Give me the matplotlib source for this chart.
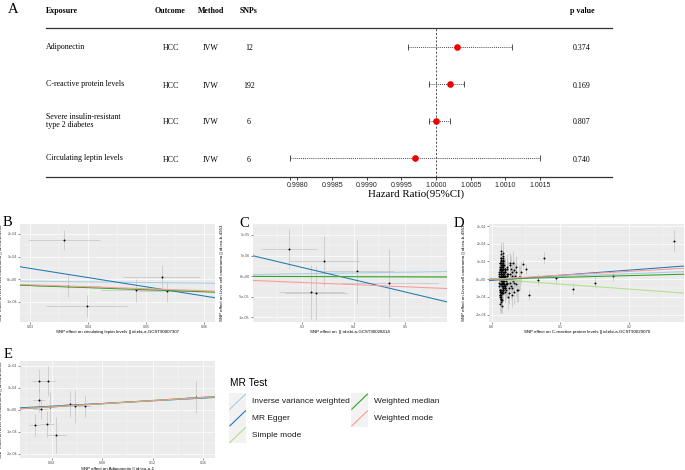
import numpy as np
import matplotlib
matplotlib.use("Agg")
import matplotlib.pyplot as plt
from matplotlib.patches import Rectangle

plt.rcParams['font.family'] = ['Liberation Sans', 'DejaVu Sans']
SERIF = 'Liberation Serif'

W, H = 685, 470

# ---------------- panel A: forest table ----------------
exposures = ["Adiponectin", "C-reactive protein levels",
             "Severe insulin-resistant\ntype 2 diabetes", "Circulating leptin levels"]
outcomes = ["HCC", "HCC", "HCC", "HCC"]
methods = ["IVW", "IVW", "IVW", "IVW"]
n_snps = [12, 192, 6, 6]
hr = [1.0003, 1.0002, 1.0000, 0.9997]
hr_low = [0.9996, 0.9999, 0.9999, 0.9979]
hr_high = [1.0011, 1.0004, 1.0002, 1.0015]
p_values = ["0.374", "0.169", "0.807", "0.740"]
hr_ticks = [0.9979, 0.9980, 0.9985, 0.9990, 0.9995, 1.0000, 1.0005, 1.0010, 1.0015]
hr_tick_labels = ["", "0.9980", "0.9985", "0.9990", "0.9995", "1.0000", "1.0005", "1.0010", "1.0015"]

# ---------------- scatter panels ----------------
method_names = ["Inverse variance weighted", "MR Egger", "Simple mode",
                "Weighted median", "Weighted mode"]
method_colors = ["#a6cee3", "#1f78b4", "#b2df8a", "#33a02c", "#fb9a99"]

# B: circulating leptin levels
leptin_x = [0.0359, 0.0366, 0.0398, 0.0483, 0.0527, 0.0537]
leptin_y = [1.73e-4, -0.30e-4, -1.18e-4, -0.49e-4, 0.12e-4, -0.53e-4]
leptin_xse = [0.0061, 0.0057, 0.0070, 0.0060, 0.0066, 0.0050]
leptin_yse = [0.45e-4, 0.50e-4, 0.50e-4, 0.50e-4, 0.50e-4, 0.47e-4]
# (intercept, slope) per method
leptin_lines = [(0, -2.8e-4), (1.70e-4, -4.06e-3), (0, -9.0e-4), (0, -9.2e-4), (0.02e-4, -8.7e-4)]

# C: ebi-a-GCST90028414
c_x = [0.274, 0.3417, 0.406, 0.3175, 0.3267, 0.4696]
c_y = [6.59e-6, 3.66e-6, 1.15e-6, -3.9e-6, -4.07e-6, -1.7e-6]
c_xse = [0.055, 0.068, 0.073, 0.063, 0.060, 0.094]
c_yse = [4.9e-6, 6.1e-6, 7.7e-6, 6.6e-6, 6.5e-6, 8.3e-6]
c_lines = [(0, 1.9e-6), (1.1e-5, -2.97e-5), (0, -2e-7), (0, -4e-7), (0, -5.2e-6)]

# D: C-reactive protein levels (cluster in 1e-3 / 1e-5 units, then outliers)
crp_x_milli = [11, 12, 13, 14, 15, 16, 17, 18, 12, 13, 14, 15, 16, 17, 11, 12, 13, 14, 15, 16,
               17, 18, 19, 20, 12, 13, 14, 15, 16, 11, 12, 13, 14, 15, 16, 17, 18, 19, 13, 14,
               15, 16, 17, 12, 13, 14, 15, 11, 12, 13, 14, 15, 16, 17, 18, 20, 21, 22, 12, 13,
               14, 15, 16, 17, 13, 14, 15, 16, 12, 13, 14, 15, 16, 17, 18, 19, 20, 21, 22, 23,
               12, 13, 14, 15, 16, 17, 11, 12, 13, 14, 15, 16, 13, 14, 15, 16, 17, 18, 19, 20,
               24, 25, 26, 27, 28, 29, 30, 31, 32, 33, 34, 35, 36, 38, 40, 42, 24, 26, 28, 30,
               12, 13, 14, 15, 16, 17, 18, 19, 20, 21, 14, 15, 16, 17, 18, 12, 13, 14, 15, 16,
               22, 23, 25, 27, 29, 31, 33, 35, 37, 41,
               11, 13, 15, 17, 19, 21, 23, 12, 14, 16, 18, 20, 22, 13, 15, 17, 19, 14, 16, 18]
crp_y_e5 = [2, -3, 5, -1, 8, -6, 3, 1, -9, 4, 12, -2, 0, 6, -4, 7, -11, 3, -7, 10,
            -1, 4, -5, 2, 9, -8, 1, -3, 6, 3, -6, 11, -10, 5, -2, 8, -4, 1, 14, -12,
            7, -5, 2, -14, 3, 9, -7, 0, 5, -3, 1, -8, 4, 13, -1, 6, -6, 2, -9, 10,
            3, -4, 15, -2, 8, -11, 5, -6, 1, -13, 7, 2, -5, 9, -3, 4, -7, 0, 3, -2,
            6, -9, 4, -1, 11, -4, -2, 9, -6, 3, -15, 7, 0, -3, 5, 12, -8, 2, -4, 6,
            3, -5, 8, -2, 6, -9, 4, -1, -7, 5, 2, -3, 7, -6, 1, 4, -10, 9, -4, 2,
            -7, 1, 6, -12, 3, -2, 8, -5, 4, -1, 16, -8, 2, 10, -3, -6, 5, 1, -4, 8,
            -3, 6, -8, 3, -5, 9, -2, 4, -6, 1,
            4, -7, 9, -1, 5, -3, 2, -10, 6, -2, 3, -5, 7, -11, 1, 8, -4, 12, -6, 0]
crp_se_e5 = [4, 5, 4, 6, 5, 4, 5, 6, 5, 4, 6, 5, 4, 5, 6, 5, 4, 5, 6, 4,
             5, 6, 4, 5, 5, 6, 4, 5, 6, 5, 4, 6, 5, 4, 5, 6, 5, 4, 5, 6,
             4, 5, 6, 5, 4, 5, 5, 6, 4, 5, 6, 4, 5, 5, 6, 5, 6, 7, 4, 5,
             5, 4, 6, 5, 5, 4, 6, 5, 4, 6, 5, 5, 4, 6, 5, 5, 6, 6, 6, 7,
             4, 5, 5, 6, 4, 5, 5, 4, 6, 5, 4, 5, 6, 5, 4, 5, 5, 6, 5, 6,
             7, 6, 7, 6, 7, 7, 6, 7, 7, 6, 7, 7, 6, 7, 7, 6, 7, 6, 7, 6,
             5, 4, 6, 5, 5, 6, 4, 5, 6, 6, 5, 4, 6, 5, 5, 4, 6, 5, 4, 5,
             7, 6, 6, 7, 6, 7, 6, 7, 7, 7,
             4, 5, 6, 5, 6, 6, 7, 4, 5, 6, 5, 6, 7, 5, 4, 6, 5, 5, 6, 4]
crp_cluster_xse = 0.0008
crp_out_x = [0.266, 0.0761, 0.0454, 0.050, 0.067, 0.094, 0.118, 0.150, 0.177, 0.0546]
crp_out_y = [2.16e-4, 1.22e-4, 0.85e-4, 0.58e-4, -0.04e-4, 0.04e-4, -0.53e-4, -0.19e-4, 0.20e-4, -0.89e-4]
crp_out_xse = [0.003, 0.002, 0.002, 0.002, 0.002, 0.002, 0.002, 0.002, 0.002, 0.002]
crp_out_yse = [0.60e-4, 0.30e-4, 0.25e-4, 0.30e-4, 0.30e-4, 0.25e-4, 0.30e-4, 0.30e-4, 0.30e-4, 0.30e-4]
crp_lines = [(0, 1.52e-4), (-0.07e-4, 2.9e-4), (0, -2.8e-4), (0, 1.0e-4), (0, 2.2e-4)]

# E: Adiponectin
adipo_x = [0.0299, 0.0368, 0.0299, 0.0313, 0.0389, 0.0265, 0.0365, 0.0437, 0.0545, 0.0582, 0.0664, 0.154]
adipo_y = [1.33e-4, 1.32e-4, 0.44e-4, 0.05e-4, 0.14e-4, -0.68e-4, -0.64e-4, -1.14e-4,
           0.26e-4, 0.17e-4, 0.18e-4, 0.58e-4]
adipo_xse = [0.0053, 0.0063, 0.0046, 0.0060, 0.0055, 0.0045, 0.0054, 0.0077, 0.0053, 0.0046, 0.0045, 0.0073]
adipo_yse = [0.52e-4, 0.70e-4, 0.52e-4, 0.44e-4, 0.68e-4, 0.50e-4, 0.60e-4, 0.82e-4,
             0.59e-4, 0.75e-4, 0.49e-4, 0.73e-4]
adipo_lines = [(0, 3.45e-4), (0.05e-4, 3.05e-4), (0, 3.5e-4), (0, 3.6e-4), (0, 3.55e-4)]

ylab_out = "SNP effect on Liver cell carcinoma || id:ieu-b-4953"

fig = plt.figure(figsize=(W / 100, H / 100), dpi=100)


def px_axes(l, t, r, b):
    return fig.add_axes([l / W, 1 - b / H, (r - l) / W, (b - t) / H])


ov = fig.add_axes([0, 0, 1, 1])
ov.set_xlim(0, W)
ov.set_ylim(H, 0)
ov.axis("off")

# ---- forest plot (A)
fa = px_axes(46, 27.6, 612, 177)
fa.patch.set_visible(False)
for s in fa.spines.values():
    s.set_visible(False)
px_per_unit = 69350.0
fa.set_xlim(1 - (436.1 - 46) / px_per_unit, 1 + (612 - 436.1) / px_per_unit)
fa.set_ylim(3.514, -0.524)
rows = np.arange(len(exposures))
fa.axvline(1.0, color='#333333', lw=0.6, ls=(0, (2.5, 2)))
fa.hlines(rows, hr_low, hr_high, colors='#333333', lw=0.6, linestyles=(0, (1.2, 1.3)))
fa.plot(hr_low, rows, '|', color='#333333', ms=4.3, mew=0.6)
fa.plot(hr_high, rows, '|', color='#333333', ms=4.3, mew=0.6)
fa.plot(hr, rows, 'o', color='#f20000', ms=4.8, mec='none', zorder=3)
fa.set_xticks(hr_ticks)
fa.set_xticklabels(hr_tick_labels)
fa.set_yticks([])
fa.tick_params(axis='x', length=2.4, width=0.6, labelsize=5, pad=1.5, colors='#222222')

TS = 5.7
ov.text(8, 3, "A", family=SERIF, fontsize=10.5, va='top')
hdr_y = 10.8
ov.text(46, hdr_y, "Exposure", family=SERIF, fontsize=TS, weight='bold', va='center')
ov.text(170, hdr_y, "Outcome", family=SERIF, fontsize=TS, weight='bold', va='center', ha='center')
ov.text(211, hdr_y, "Method", family=SERIF, fontsize=TS, weight='bold', va='center', ha='center')
ov.text(249, hdr_y, "SNPs", family=SERIF, fontsize=TS, weight='bold', va='center', ha='center')
ov.text(570, hdr_y, "p value", family=SERIF, fontsize=TS, weight='bold', va='center')
for i in rows:
    ry = 47 + 37 * i
    ov.text(46, ry, exposures[i], family=SERIF, fontsize=TS, va='center', linespacing=1.05)
    ov.text(171, ry + 1.5, outcomes[i], family=SERIF, fontsize=TS, va='center', ha='center')
    ov.text(211, ry + 1.5, methods[i], family=SERIF, fontsize=TS, va='center', ha='center')
    ov.text(249, ry + 1.5, str(n_snps[i]), family=SERIF, fontsize=TS, va='center', ha='center')
    ov.text(573, ry + 1.5, p_values[i], family=SERIF, fontsize=TS, va='center')
ov.plot([46, 612], [27.6, 27.6], color='#333333', lw=0.9)
ov.plot([46, 612], [177, 177], color='#333333', lw=0.9)
ov.text(415.6, 194.6, "Hazard Ratio(95%CI)", family=SERIF, fontsize=7.8, ha='center', va='center')


# ---- scatter panels
def mr_panel(ax, x, y, xse, yse, lines, xlim, ylim, xticks, xtl, yticks, ytl,
             xlabel, ylab_x):
    ax.set_facecolor('#EBEBEB')
    for s in ax.spines.values():
        s.set_visible(False)
    ax.errorbar(x, y, xerr=xse, yerr=yse, fmt='none', ecolor='#BEBEBE',
                elinewidth=0.45, capsize=0, zorder=2)
    ax.plot(x, y, 'o', color='black', ms=1.4, mec='none', zorder=3)
    xs = np.array(xlim)
    for (b0, b1), col in zip(lines, method_colors):
        ax.plot(xs, b0 + b1 * xs, color=col, lw=0.75, zorder=4)
    ax.set_xlim(xlim)
    ax.set_ylim(ylim)
    ax.set_xticks(xticks)
    ax.set_xticklabels(xtl)
    ax.set_yticks(yticks)
    ax.set_yticklabels(ytl)
    dx = xticks[1] - xticks[0]
    dy = yticks[1] - yticks[0]
    mx = [t + dx / 2 for t in [xticks[0] - dx] + list(xticks)]
    my = [t + dy / 2 for t in [yticks[0] - dy] + list(yticks)]
    ax.set_xticks([v for v in mx if xlim[0] < v < xlim[1]], minor=True)
    ax.set_yticks([v for v in my if min(ylim) < v < max(ylim)], minor=True)
    ax.set_axisbelow(True)
    ax.grid(which='major', color='white', lw=0.5)
    ax.grid(which='minor', color='white', lw=0.25)
    ax.tick_params(which='major', length=1.3, width=0.4, color='#333333',
                   labelsize=2.6, labelcolor='#4D4D4D', pad=0.8)
    ax.tick_params(which='minor', length=0)
    ax.set_xlabel(xlabel, fontsize=3.2)
    ax.set_ylabel(ylab_out, fontsize=3.2)
    ax.xaxis.set_label_coords(0.5, -0.085)
    ax.yaxis.set_label_coords(ylab_x, 0.5)


axB = px_axes(20, 224, 215, 321.7)
mr_panel(axB, leptin_x, leptin_y, leptin_xse, leptin_yse, leptin_lines,
         (0.02826, 0.0619), (-1.87e-4, 2.44e-4),
         [0.03, 0.04, 0.05, 0.06], ["0.03", "0.04", "0.05", "0.06"],
         [-1e-4, 0, 1e-4, 2e-4], ["-1e-04", "0e+00", "1e-04", "2e-04"],
         "SNP effect on circulating leptin levels || id:ebi-a-GCST90007307", -0.085)

axC = px_axes(252.7, 224.3, 446.7, 321.7)
mr_panel(axC, c_x, c_y, c_xse, c_yse, c_lines,
         (0.2033, 0.5813), (-1.11e-5, 1.26e-5),
         [0.3, 0.4, 0.5], ["0.3", "0.4", "0.5"],
         [-1e-5, -5e-6, 0, 5e-6, 1e-5], ["-1e-05", "-5e-06", "0e+00", "5e-06", "1e-05"],
         "SNP effect on  || id:ebi-a-GCST90028414", -0.15)

crp_x = list(np.array(crp_x_milli) * 1e-3) + crp_out_x
crp_y = list(np.array(crp_y_e5) * 1e-5) + crp_out_y
crp_xse = [crp_cluster_xse] * len(crp_x_milli) + crp_out_xse
crp_yse = list(np.array(crp_se_e5) * 1e-5) + crp_out_yse
axD = px_axes(489.3, 224.3, 684, 322)
mr_panel(axD, crp_x, crp_y, crp_xse, crp_yse, crp_lines,
         (-0.0035, 0.28), (-2.42e-4, 3.1e-4),
         [0.0, 0.1, 0.2], ["0.0", "0.1", "0.2"],
         [-2e-4, -1e-4, 0, 1e-4, 2e-4, 3e-4],
         ["-2e-04", "-1e-04", "0e+00", "1e-04", "2e-04", "3e-04"],
         "SNP effect on C-reactive protein levels || id:ebi-a-GCST90029070", -0.122)

axE = px_axes(20, 360.7, 215, 458.3)
mr_panel(axE, adipo_x, adipo_y, adipo_xse, adipo_yse, adipo_lines,
         (0.0149, 0.1693), (-2.2e-4, 2.24e-4),
         [0.04, 0.08, 0.12, 0.16], ["0.04", "0.08", "0.12", "0.16"],
         [-2e-4, -1e-4, 0, 1e-4, 2e-4], ["-2e-04", "-1e-04", "0e+00", "1e-04", "2e-04"],
         "SNP effect on Adiponectin || id:ieu-a-1", -0.085)

for lab, lx, ly in [("B", 3, 216), ("C", 239, 217), ("D", 454, 217), ("E", 4, 348)]:
    ov.text(lx, ly, lab, family=SERIF, fontsize=10.5, va='top')

# ---- legend
ov.text(230, 383.3, "MR Test", fontsize=7.3, va='center')
key_w, key_h = 17.3, 16.7
for i, (name, col) in enumerate(zip(method_names, method_colors)):
    kx = [229, 351][i // 3]
    ky = 393.3 + key_h * (i % 3)
    ov.add_patch(Rectangle((kx, ky), key_w, key_h, facecolor='#F2F2F2', edgecolor='none'))
    ov.plot([kx + 0.8, kx + key_w - 0.8], [ky + key_h - 0.8, ky + 0.8], color=col, lw=0.8)
    ov.text(kx + 22.7, ky + key_h / 2, name, fontsize=6, va='center', color='#1a1a1a')

fig.savefig("out.png", dpi=100)
